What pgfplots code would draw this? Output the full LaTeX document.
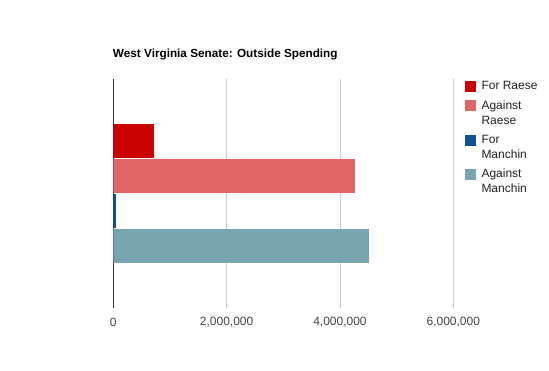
\documentclass[border=0pt]{standalone}
\usepackage{pgfplots}
\pgfplotsset{compat=1.18}
\usepackage{fontspec}
\setmainfont{Liberation Sans}
\definecolor{forR}{HTML}{CC0000}
\definecolor{agR}{HTML}{E06666}
\definecolor{forM}{HTML}{0B5394}
\definecolor{agM}{HTML}{76A5AF}
\definecolor{gridc}{HTML}{CCCCCC}
\definecolor{axisc}{HTML}{333333}
\definecolor{tickc}{HTML}{444444}
\definecolor{legc}{HTML}{222222}
\begin{document}
\begin{tikzpicture}
\path[use as bounding box] (-113.3pt,-63pt) rectangle (435.7pt,308pt);
\begin{axis}[
  at={(0,0)}, anchor=south west,
  scale only axis, width=340pt, height=229pt,
  xmin=0, xmax=6000000, ymin=-1, ymax=1,
  xbar, bar width=34pt,
  axis line style={draw=none},
  ytick=\empty,
  xtick={2000000,4000000,6000000},
  extra x ticks={0},
  extra x tick style={grid style={color=axisc, line width=1pt}},
  xmajorgrids, grid style={color=gridc, line width=0.8pt},
  major tick length=0pt,
  scaled x ticks=false,
  xticklabel={\pgfmathprintnumber[fixed,1000 sep={,},assume math mode=true]{\tick}},
  xticklabel style={anchor=center, yshift=-14pt, text=tickc, font=\fontsize{12}{14}\selectfont},
  title={West Virginia Senate: Outside Spending},
  title style={at={(0,1)}, anchor=west, inner sep=0pt, xshift=-0.5pt, yshift=19pt, font=\bfseries\fontsize{11.75}{14}\selectfont},
  legend style={at={(1,1)}, anchor=north west, xshift=8pt, yshift=1.5pt, draw=none, fill=none,
    font=\fontsize{12}{15}\selectfont, text=legc, cells={anchor=west, align=left}, row sep=5.3pt},
]
\addplot[fill=forR, draw=none, bar shift=52.5pt,
  legend image code/.code={\fill[forR] (0pt,-5.5pt) rectangle (11pt,5.5pt); \path (15pt,0pt);}]
  coordinates {(720000,0)};
\addlegendentry{For Raese}
\addplot[fill=agR, draw=none, bar shift=17.5pt,
  legend image code/.code={\fill[agR] (0pt,2pt) rectangle (11pt,13pt); \path (15pt,0pt);}]
  coordinates {(4260000,0)};
\addlegendentry{Against\\Raese}
\addplot[fill=forM, draw=none, bar shift=-17.5pt,
  legend image code/.code={\fill[forM] (0pt,2pt) rectangle (11pt,13pt); \path (15pt,0pt);}]
  coordinates {(50000,0)};
\addlegendentry{For\\Manchin}
\addplot[fill=agM, draw=none, bar shift=-52.5pt,
  legend image code/.code={\fill[agM] (0pt,2pt) rectangle (11pt,13pt); \path (15pt,0pt);}]
  coordinates {(4520000,0)};
\addlegendentry{Against\\Manchin}
\end{axis}
\end{tikzpicture}
\end{document}
